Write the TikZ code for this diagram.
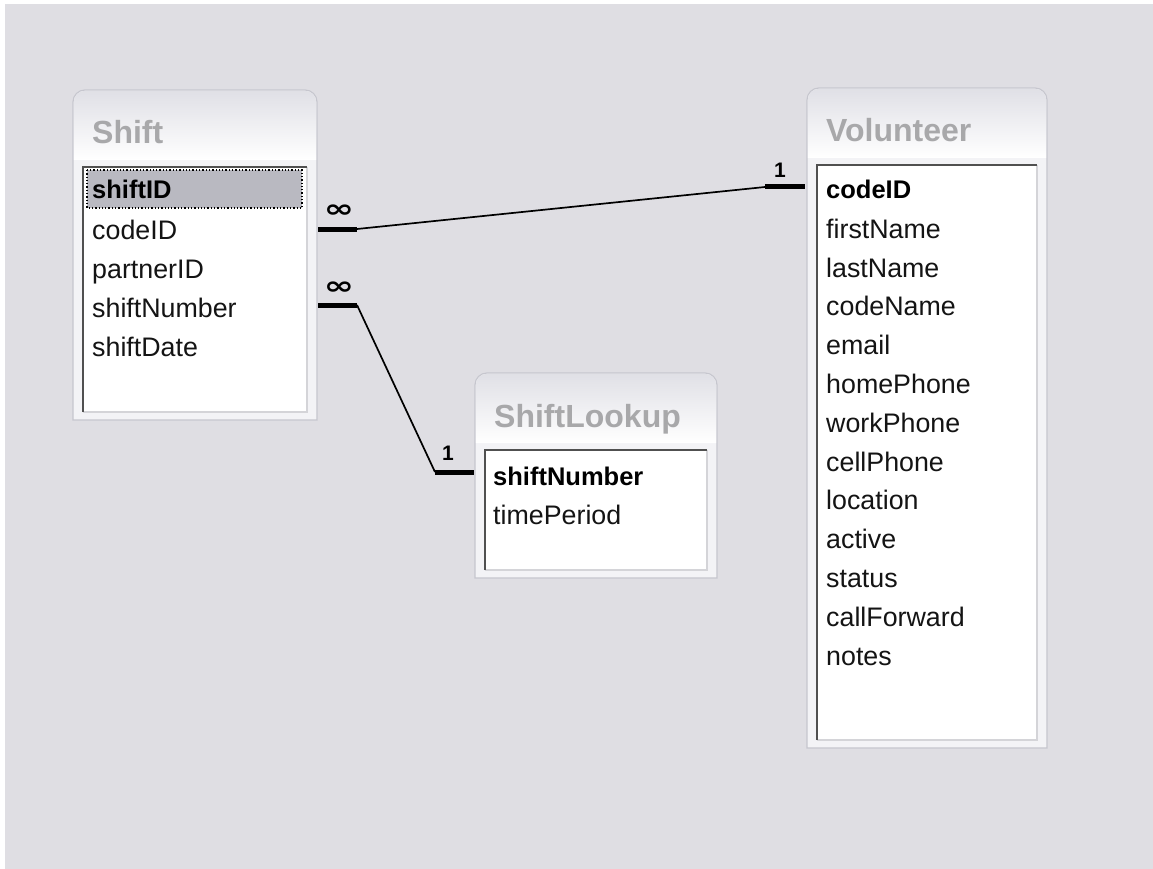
\documentclass[tikz,border=0pt]{standalone}
\usepackage{fontspec}
\setmainfont{Liberation Sans}
\newfontfamily\symfont{DejaVu Sans}
\definecolor{bg}{HTML}{DFDEE3}
\definecolor{framebd}{HTML}{C6C6CE}
\definecolor{framefill}{HTML}{F3F3F6}
\definecolor{hdtop}{HTML}{E0E0E6}
\definecolor{titlegray}{HTML}{A8A8AA}
\definecolor{innerdk}{HTML}{505050}
\definecolor{innerlt}{HTML}{D4D4D8}
\definecolor{selfill}{HTML}{B9B9C1}
\definecolor{ink}{HTML}{141414}
\tikzset{
  tabtitle/.style={anchor=base west, inner sep=0pt, text=titlegray, font=\fontsize{32}{36}\selectfont\bfseries},
  field/.style={anchor=base west, inner sep=0pt, text=ink, font=\fontsize{26.8}{30}\selectfont},
  keyfield/.style={anchor=base west, inner sep=0pt, text=black, font=\fontsize{25.5}{30}\selectfont\bfseries},
  bar/.style={line width=5pt, black},
  rel/.style={line width=1.7pt, black},
  manylabel/.style={inner sep=0pt, font=\symfont\bfseries\fontsize{25}{26}\selectfont},
  onelabel/.style={inner sep=0pt, font=\fontsize{21}{24}\selectfont\bfseries},
}
\newcommand\dbframe[6]{%
  \path[draw=framebd, line width=1.2pt, fill=framefill]
    (#2,#5) -- (#2,#3+12) arc[start angle=180, end angle=270, radius=12]
    -- (#4-12,#3) arc[start angle=270, end angle=360, radius=12]
    -- (#4,#5) -- cycle;
  \shade[top color=hdtop, bottom color=white]
    (#2+0.8,#3+70) -- (#2+0.8,#3+12) arc[start angle=180, end angle=270, radius=11.2]
    -- (#4-12,#3+0.8) arc[start angle=270, end angle=360, radius=11.2]
    -- (#4-0.8,#3+70) -- cycle;
  \fill[white] (#2+10,#3+77) rectangle (#4-10,#5-8);
  \draw[innerlt, line width=1.2pt] (#2+10,#5-8) -| (#4-10,#3+77);
  \draw[innerdk, line width=1.8pt] (#2+10,#5-8) |- (#4-10,#3+77);
  \node[tabtitle] (#1-title) at (#2+19,#3+54) {#6};
}
\begin{document}
\begin{tikzpicture}[x=1pt,y=-1pt]
\useasboundingbox (0,0) rectangle (1153,869);
\fill[white] (0,0) rectangle (1153,869);
\fill[bg] (5,4) rectangle (1153,869);

% tables
\dbframe{shift}{73}{90}{317}{420}{Shift}
\dbframe{vol}{807}{88}{1047}{748}{Volunteer}
\dbframe{look}{475}{373}{717}{578}{ShiftLookup}

% Shift rows
\fill[selfill] (87,170) rectangle (302,208);
\draw[black, line width=1.3pt, dotted] (87,170) rectangle (302,208);
\node[keyfield] (s-shiftID) at (92,199) {shiftID};
\node[field] (s-codeID) at (92,239) {codeID};
\node[field] (s-partnerID) at (92,278) {partnerID};
\node[field] (s-shiftNumber) at (92,317) {shiftNumber};
\node[field] (s-shiftDate) at (92,356) {shiftDate};

% Volunteer rows
\node[keyfield] (v-codeID) at (826,199) {codeID};
\foreach \t [count=\i] in {firstName,lastName,codeName,email,homePhone,workPhone,cellPhone,location,active,status,callForward,notes}
  \node[field] (v-\t) at (826,{199.5+38.8*\i}) {\t};

% ShiftLookup rows
\node[keyfield] (l-shiftNumber) at (493,485) {shiftNumber};
\node[field] (l-timePeriod) at (493,524) {timePeriod};

% relationship Shift.codeID -> Volunteer.codeID
\coordinate (a1) at (318,229);
\coordinate (a2) at (357,229);
\coordinate (a3) at (765,187);
\coordinate (a4) at (805,187);
\draw[bar] (a1) -- (a2);
\draw[rel] (a2) -- (a3);
\draw[bar] (a3) -- (a4);
\node[manylabel] (m1) at (339,211) {\scalebox{1.45}[1]{∞}};
\node[onelabel] (o1) at (780,170) {1};

% relationship Shift.shiftNumber -> ShiftLookup.shiftNumber
\coordinate (b1) at (318,305);
\coordinate (b2) at (357,305);
\coordinate (b3) at (435,472);
\coordinate (b4) at (474,472);
\draw[bar] (b1) -- (b2);
\draw[rel] (b2) -- (b3);
\draw[bar] (b3) -- (b4);
\node[manylabel] (m2) at (339,288) {\scalebox{1.45}[1]{∞}};
\node[onelabel] (o2) at (448,453) {1};
\end{tikzpicture}
\end{document}
